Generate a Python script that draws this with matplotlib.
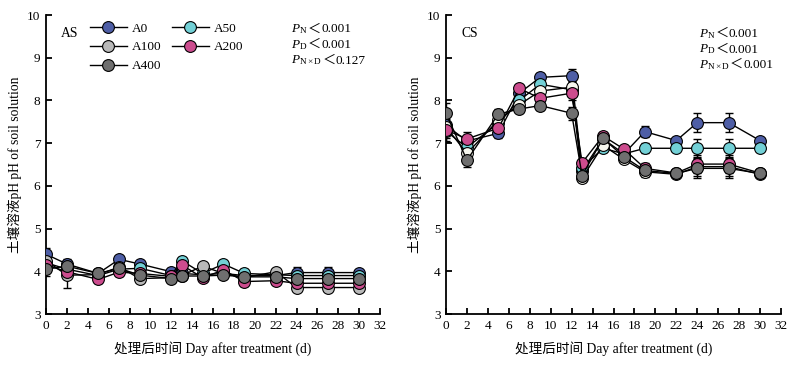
import numpy as np
import matplotlib
matplotlib.use("Agg")
import matplotlib.pyplot as plt
from matplotlib.offsetbox import TextArea, HPacker, AnchoredOffsetbox

plt.rcParams['font.family'] = ['Liberation Serif', 'Noto Sans CJK SC', 'DejaVu Sans']
plt.rcParams['mathtext.fontset'] = 'custom'
plt.rcParams['mathtext.rm'] = 'Liberation Serif'
plt.rcParams['mathtext.it'] = 'Liberation Serif:italic'

days = [0, 2, 5, 7, 9, 12, 13, 15, 17, 19, 22, 24, 27, 30]
groups = ['A0', 'A50', 'A100', 'A200', 'A400']
colors = {'A0': '#4e5ea6', 'A50': '#72d0d6', 'A100': '#b9b9b9', 'A200': '#cc4c8e', 'A400': '#6f6f6f'}

# AS soil solution pH
as_A0 = [4.40, 4.17, 3.95, 4.28, 4.17, 3.99, 3.95, 3.92, 3.95, 3.90, 3.90, 3.97, 3.97, 3.97]
as_A50 = [4.20, 4.05, 3.90, 4.05, 4.07, 3.90, 4.25, 3.95, 4.17, 3.95, 3.92, 3.90, 3.90, 3.90]
as_A100 = [4.25, 3.91, 3.92, 4.10, 3.83, 3.85, 3.90, 4.12, 3.95, 3.85, 3.99, 3.62, 3.62, 3.62]
as_A200 = [4.15, 3.99, 3.81, 3.98, 3.95, 3.88, 4.15, 3.85, 4.03, 3.76, 3.78, 3.72, 3.72, 3.72]
as_A400 = [4.05, 4.12, 3.95, 4.07, 3.91, 3.83, 3.89, 3.89, 3.91, 3.87, 3.87, 3.83, 3.83, 3.83]
as_err = [0.15, 0.12, 0.08, 0.08, 0.06, 0.08, 0.08, 0.06, 0.06, 0.10, 0.06, 0.14, 0.14, 0.06]
as_err_A100 = [0.10, 0.30, 0.05, 0.05, 0.05, 0.05, 0.05, 0.05, 0.05, 0.05, 0.05, 0.06, 0.06, 0.05]

# CS soil solution pH
cs_A0 = [7.42, 7.05, 7.23, 8.17, 8.54, 8.58, 6.35, 7.10, 6.75, 7.27, 7.06, 7.48, 7.48, 7.06]
cs_A50 = [7.28, 6.90, 7.47, 8.00, 8.38, 8.25, 6.42, 6.88, 6.75, 6.88, 6.88, 6.88, 6.88, 6.88]
cs_A100 = [7.38, 6.76, 7.54, 7.90, 8.22, 8.31, 6.18, 6.95, 6.62, 6.33, 6.27, 6.45, 6.45, 6.27]
cs_A200 = [7.31, 7.10, 7.35, 8.28, 8.05, 8.17, 6.54, 7.17, 6.86, 6.41, 6.30, 6.51, 6.51, 6.30]
cs_A400 = [7.70, 6.60, 7.68, 7.80, 7.88, 7.70, 6.24, 7.11, 6.68, 6.36, 6.29, 6.41, 6.41, 6.29]
cs_err = [0.25, 0.15, 0.12, 0.08, 0.10, 0.15, 0.08, 0.08, 0.06, 0.12, 0.06, 0.22, 0.22, 0.06]

as_data = {'A0': as_A0, 'A50': as_A50, 'A100': as_A100, 'A200': as_A200, 'A400': as_A400}
cs_data = {'A0': cs_A0, 'A50': cs_A50, 'A100': cs_A100, 'A200': cs_A200, 'A400': cs_A400}

p_subs = ['N', 'D', 'N\\times D']
p_as = ['0.001', '0.001', '0.127']
p_cs = ['0.001', '0.001', '0.001']

fig = plt.figure(figsize=(8, 3.68), dpi=100)
ax1 = fig.add_axes([0.0575, 0.1467, 0.4175, 0.8125])
ax2 = fig.add_axes([0.5575, 0.1467, 0.41875, 0.8125])


def draw(ax, data, errs, cs=False):
    handles = {}
    for g in groups:
        e = errs
        if not cs and g == 'A100':
            e = as_err_A100
        face = colors[g]
        if cs and g == 'A100':
            face = '#f6f6ee'
        ax.errorbar(days, data[g], yerr=e, color='black', lw=0, elinewidth=1,
                    capsize=3, capthick=1, zorder=2)
        h, = ax.plot(days, data[g], '-o', color='black', lw=1, markersize=8.5,
                     markerfacecolor=face, markeredgecolor='black', markeredgewidth=0.8,
                     zorder=3, label=g)
        handles[g] = h
    ax.set_xlim(0, 32)
    ax.set_ylim(3, 10)
    ax.set_xticks(range(0, 33, 2))
    ax.set_yticks(range(3, 11))
    for s in ['top', 'right']:
        ax.spines[s].set_visible(False)
    for s in ['left', 'bottom']:
        ax.spines[s].set_linewidth(1.3)
    ax.tick_params(direction='in', length=4, width=1.3, labelsize=9.5, pad=4)
    ax.set_xlabel('处理后时间 Day after treatment (d)', fontsize=9.8, labelpad=7)
    ax.set_ylabel('土壤溶液pH pH of soil solution', fontsize=9.8, labelpad=4)
    return handles


def pvalues(ax, vals, x, y):
    # P with subscript in mathtext, the wide "<" from the CJK font
    for i, (sub, v) in enumerate(zip(p_subs, vals)):
        a = TextArea('$P_{\\rm %s}$' % sub, textprops=dict(fontsize=9.5))
        lt = TextArea('＜', textprops=dict(fontsize=9.5, family=['Noto Sans CJK SC']))
        b = TextArea(v, textprops=dict(fontsize=9.5))
        row = HPacker(children=[a, lt, b], align='baseline', pad=0, sep=0)
        box = AnchoredOffsetbox(loc='upper left', child=row, pad=0, borderpad=0,
                                frameon=False, bbox_to_anchor=(x, y - i * 0.052),
                                bbox_transform=ax.transAxes)
        ax.add_artist(box)


hs = draw(ax1, as_data, as_err)
draw(ax2, cs_data, cs_err, cs=True)

order = ['A0', 'A100', 'A400', 'A50', 'A200']
ax1.legend([hs[g] for g in order], order, ncol=2, loc='upper left',
           bbox_to_anchor=(0.095, 1.015), frameon=False, fontsize=9.5,
           handlelength=2.8, handletextpad=0.4, columnspacing=0.8,
           labelspacing=0.5, markerscale=1.0)

ax1.text(0.045, 0.96, 'AS', transform=ax1.transAxes, fontsize=9.8, va='top')
ax2.text(0.045, 0.96, 'CS', transform=ax2.transAxes, fontsize=9.8, va='top')

pvalues(ax1, p_as, 0.735, 0.975)
pvalues(ax2, p_cs, 0.755, 0.96)

fig.savefig('out.png', dpi=100)
